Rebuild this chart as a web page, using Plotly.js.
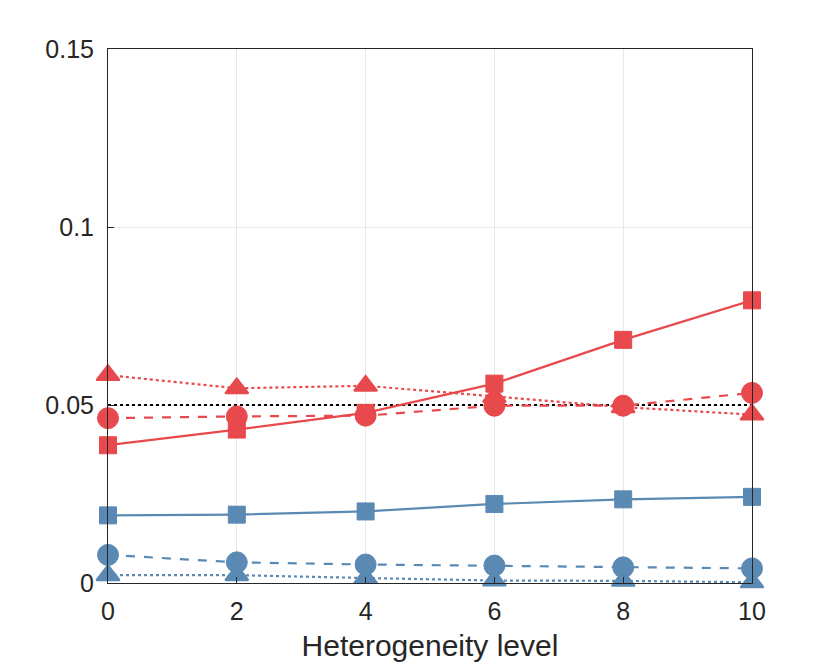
<!DOCTYPE html>
<html>
<head>
<meta charset="utf-8">
<script src="https://cdn.plot.ly/plotly-3.0.1.min.js"></script>
<style>html,body{margin:0;padding:0;background:#fff;}#chart{width:830px;height:664px;}</style>
</head>
<body>
<div id="chart"></div>
<script>
const levels = [0, 2, 4, 6, 8, 10];
const redSquare   = [0.0387, 0.0431, 0.0478, 0.0560, 0.0683, 0.0794];
const redCircle   = [0.0463, 0.0468, 0.0470, 0.0498, 0.0498, 0.0534];
const redTriangle = [0.0584, 0.0547, 0.0554, 0.0523, 0.0494, 0.0473];
const blueSquare   = [0.0190, 0.0192, 0.0201, 0.0222, 0.0235, 0.0242];
const blueCircle   = [0.0079, 0.0058, 0.0052, 0.0049, 0.0044, 0.0041];
const blueTriangle = [0.0022, 0.0022, 0.0014, 0.0007, 0.0006, 0.0002];
const nominal = [0.05, 0.05];
const nominalX = [0, 10];
const yTicks = [0, 0.05, 0.1, 0.15];
const yTickText = ['0', '0.05', '0.1', '0.15'];

const RED = '#E8494C';
const BLUE = '#5A8AB4';

function tr(y, color, dash, symbol, size, lw) {
  return {
    x: levels, y: y, type: 'scatter', mode: 'lines+markers', cliponaxis: false,
    line: {color: color, width: 2.2, dash: dash},
    marker: {color: color, symbol: symbol, size: size, line: {color: color, width: lw}}
  };
}

const data = [
  {x: nominalX, y: nominal, type: 'scatter', mode: 'lines', line: {color: '#000', width: 2.2, dash: 'dot'}},
  tr(blueTriangle, BLUE, 'dot', 'triangle-up', 20, 2),
  tr(blueCircle, BLUE, 'dash', 'circle', 21, 1),
  tr(blueSquare, BLUE, 'solid', 'square', 17, 1),
  tr(redTriangle, RED, 'dot', 'triangle-up', 20, 2),
  tr(redCircle, RED, 'dash', 'circle', 21, 1),
  tr(redSquare, RED, 'solid', 'square', 17, 1)
];

const layout = {
  width: 830, height: 664,
  margin: {l: 108, r: 78, t: 49, b: 81},
  paper_bgcolor: '#fff', plot_bgcolor: '#fff',
  showlegend: false,
  font: {family: 'Liberation Sans, Arial, sans-serif', color: '#262626'},
  xaxis: {
    range: [0, 10], tickvals: levels, ticktext: levels.map(String),
    ticks: 'inside', ticklen: 6, tickcolor: '#262626',
    showline: true, linecolor: '#262626', linewidth: 1, mirror: true,
    showgrid: true, gridcolor: '#e8e8e8', gridwidth: 1, zeroline: false,
    tickfont: {size: 25, color: '#262626'}, ticklabelstandoff: 6,
    title: {text: 'Heterogeneity level', font: {size: 30, color: '#262626'}, standoff: 10}
  },
  yaxis: {
    range: [0, 0.15], tickvals: yTicks, ticktext: yTickText,
    ticks: 'inside', ticklen: 6, tickcolor: '#262626',
    showline: true, linecolor: '#262626', linewidth: 1, mirror: true,
    showgrid: true, gridcolor: '#e8e8e8', gridwidth: 1, zeroline: false,
    tickfont: {size: 25, color: '#262626'}, ticklabelstandoff: 8
  }
};

Plotly.newPlot('chart', data, layout, {displayModeBar: false, staticPlot: true});
</script>
</body>
</html>
